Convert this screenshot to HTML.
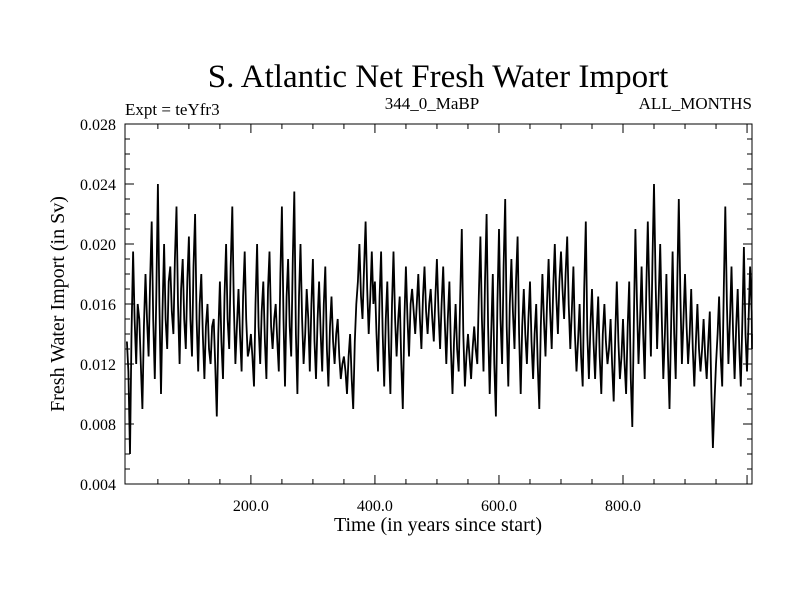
<!DOCTYPE html>
<html><head><meta charset="utf-8"><style>
body{margin:0;background:#fff;}
svg{display:block;font-family:"Liberation Serif",serif;}
</style></head><body>
<svg id="chart" width="800" height="600" viewBox="0 0 800 600">
<text x="438" y="87" font-size="33" text-anchor="middle">S. Atlantic Net Fresh Water Import</text>
<text x="125" y="115" font-size="17">Expt = teYfr3</text>
<text x="432" y="109" font-size="17" text-anchor="middle">344_0_MaBP</text>
<text x="752" y="109" font-size="17" text-anchor="end">ALL_MONTHS</text>
<text x="438" y="531" font-size="20" text-anchor="middle">Time (in years since start)</text>
<text transform="translate(64,304) rotate(-90)" font-size="20" text-anchor="middle">Fresh Water Import (in Sv)</text>
<g id="axes"></g>
<path id="series" fill="none" stroke="#000" stroke-width="1.8" stroke-linejoin="miter"/>
<rect x="125" y="124" width="627" height="360" fill="none" stroke="#000" stroke-width="1"/>
</svg>
<script>
const yearStep = 5;
// values at whole 5-year steps (peaks/troughs)
const values = [
0.0135,0.0060,0.0195,0.0120,0.0150,0.0090,0.0180,0.0125,0.0215,0.0110,
0.0240,0.0100,0.0200,0.0130,0.0185,0.0140,0.0225,0.0120,0.0190,0.0130,
0.0205,0.0125,0.0220,0.0115,0.0180,0.0110,0.0160,0.0120,0.0150,0.0085,
0.0175,0.0110,0.0200,0.0130,0.0225,0.0120,0.0170,0.0115,0.0195,0.0125,
0.0140,0.0105,0.0200,0.0120,0.0175,0.0110,0.0195,0.0130,0.0160,0.0115,
0.0225,0.0105,0.0190,0.0125,0.0235,0.0100,0.0200,0.0120,0.0170,0.0115,
0.0190,0.0110,0.0175,0.0115,0.0185,0.0105,0.0165,0.0120,0.0150,0.0110,
0.0125,0.0100,0.0140,0.0090,0.0160,0.0200,0.0150,0.0215,0.0140,0.0195,
0.0175,0.0115,0.0195,0.0105,0.0175,0.0100,0.0195,0.0125,0.0165,0.0090,
0.0185,0.0125,0.0170,0.0140,0.0180,0.0130,0.0185,0.0140,0.0170,0.0135,
0.0190,0.0130,0.0185,0.0120,0.0175,0.0100,0.0160,0.0115,0.0210,0.0105,
0.0140,0.0110,0.0145,0.0120,0.0205,0.0115,0.0220,0.0100,0.0180,0.0085,
0.0210,0.0120,0.0230,0.0105,0.0190,0.0130,0.0205,0.0100,0.0170,0.0120,
0.0175,0.0110,0.0160,0.0090,0.0180,0.0125,0.0190,0.0130,0.0200,0.0140,
0.0195,0.0150,0.0205,0.0130,0.0185,0.0115,0.0160,0.0105,0.0215,0.0110,
0.0170,0.0110,0.0165,0.0100,0.0160,0.0120,0.0150,0.0095,0.0175,0.0110,
0.0150,0.0100,0.0175,0.0078,0.0210,0.0120,0.0185,0.0110,0.0215,0.0125,
0.0240,0.0130,0.0200,0.0110,0.0180,0.0090,0.0195,0.0110,0.0230,0.0120,
0.0180,0.0120,0.0170,0.0105,0.0160,0.0115,0.0150,0.0110,0.0155,0.0064,
0.0120,0.0165,0.0105,0.0225,0.0120,0.0185,0.0110,0.0170,0.0105,0.0198,0.0115,0.0185,0.0130
];
// intermediate values at half steps (year + 2.5), estimated from the dense band
const midValues = [
0.0115,0.0140,0.0150,0.0160,0.0120,0.0145,0.0150,0.0175,0.0150,0.0165,
0.0160,0.0155,0.0150,0.0175,0.0155,0.0190,0.0160,0.0170,0.0150,0.0175,
0.0150,0.0185,0.0150,0.0160,0.0140,0.0145,0.0130,0.0145,0.0120,0.0140,
0.0135,0.0165,0.0150,0.0185,0.0160,0.0145,0.0140,0.0165,0.0150,0.0130,
0.0125,0.0160,0.0145,0.0155,0.0135,0.0170,0.0145,0.0150,0.0135,0.0180,
0.0150,0.0165,0.0145,0.0190,0.0140,0.0165,0.0150,0.0140,0.0150,0.0160,
0.0135,0.0150,0.0140,0.0160,0.0130,0.0145,0.0135,0.0140,0.0125,0.0120,
0.0115,0.0125,0.0110,0.0135,0.0175,0.0165,0.0185,0.0170,0.0165,0.0160,
0.0140,0.0165,0.0140,0.0150,0.0130,0.0160,0.0150,0.0150,0.0120,0.0150,
0.0150,0.0160,0.0155,0.0160,0.0150,0.0165,0.0155,0.0160,0.0150,0.0165,
0.0155,0.0160,0.0150,0.0150,0.0130,0.0135,0.0130,0.0165,0.0140,0.0125,
0.0125,0.0130,0.0130,0.0165,0.0150,0.0175,0.0145,0.0140,0.0120,0.0160,
0.0150,0.0185,0.0145,0.0160,0.0155,0.0175,0.0140,0.0145,0.0140,0.0150,
0.0135,0.0140,0.0120,0.0145,0.0150,0.0160,0.0155,0.0170,0.0165,0.0175,
0.0170,0.0180,0.0160,0.0155,0.0140,0.0135,0.0125,0.0170,0.0140,0.0145,
0.0135,0.0140,0.0125,0.0140,0.0135,0.0130,0.0120,0.0140,0.0135,0.0125,
0.0120,0.0145,0.0110,0.0150,0.0160,0.0150,0.0140,0.0170,0.0165,0.0190,
0.0175,0.0165,0.0150,0.0140,0.0125,0.0145,0.0140,0.0175,0.0165,0.0150,
0.0145,0.0140,0.0130,0.0135,0.0130,0.0130,0.0125,0.0135,0.0100,0.0095,
0.0140,0.0125,0.0170,0.0160,0.0150,0.0140,0.0145,0.0130,0.0150,0.0140,0.0150,0.0155,0.0140
];
const xTicks = [200, 400, 600, 800];
const xTickLabels = ["200.0", "400.0", "600.0", "800.0"];
const yTicks = [0.004, 0.008, 0.012, 0.016, 0.020, 0.024, 0.028];
const yTickLabels = ["0.004", "0.008", "0.012", "0.016", "0.020", "0.024", "0.028"];

const X0 = 125, X1 = 752, Y0 = 484, Y1 = 124;
const xMin = -3, xMax = 1008, yMin = 0.004, yMax = 0.028;
const xs = v => X0 + (v - xMin) / (xMax - xMin) * (X1 - X0);
const ys = v => Y0 - (v - yMin) / (yMax - yMin) * (Y0 - Y1);
const NS = "http://www.w3.org/2000/svg";
const axes = document.getElementById("axes");
function line(x1, y1, x2, y2, name) {
  const l = document.createElementNS(NS, "line");
  l.setAttribute("x1", x1); l.setAttribute("y1", y1);
  l.setAttribute("x2", x2); l.setAttribute("y2", y2);
  l.setAttribute("stroke", "#000"); l.setAttribute("stroke-width", "1");
  
  
  axes.appendChild(l);
}
function text(x, y, s, anchor, name) {
  const t = document.createElementNS(NS, "text");
  t.setAttribute("x", x); t.setAttribute("y", y);
  t.setAttribute("font-size", "16"); t.setAttribute("text-anchor", anchor);
  t.textContent = s;
  
  
  axes.appendChild(t);
}
for (let yr = 50; yr < xMax; yr += 50) {
  const major = yr % 200 === 0;
  const len = major ? 9 : 5;
  const x = xs(yr);
  line(x, Y0, x, Y0 - len, "x-tick");
  line(x, Y1, x, Y1 + len, "x-tick-top");
}
xTicks.forEach((v, i) => text(xs(v), Y0 + 27, xTickLabels[i], "middle", "x-tick-label"));
for (let k = 5; k < 28; k++) {
  const v = k / 1000;
  const major = k % 4 === 0;
  const len = major ? 9 : 5;
  const y = ys(v);
  line(X0, y, X0 + len, y, "y-tick");
  line(X1, y, X1 - len, y, "y-tick-right");
}
yTicks.forEach((v, i) => text(116, ys(v) + 6, yTickLabels[i], "end", "y-tick-label"));

let d = "";
values.forEach((v, i) => {
  const yr = i * yearStep;
  d += (i ? "L" : "M") + Math.min(xs(yr), X1).toFixed(1) + "," + ys(v).toFixed(1);
  if (i < midValues.length) {
    const ym = yr + yearStep / 2;
    d += "L" + Math.min(xs(ym), X1).toFixed(1) + "," + ys(midValues[i]).toFixed(1);
  }
});
document.getElementById("series").setAttribute("d", d);
</script>
</body></html>
